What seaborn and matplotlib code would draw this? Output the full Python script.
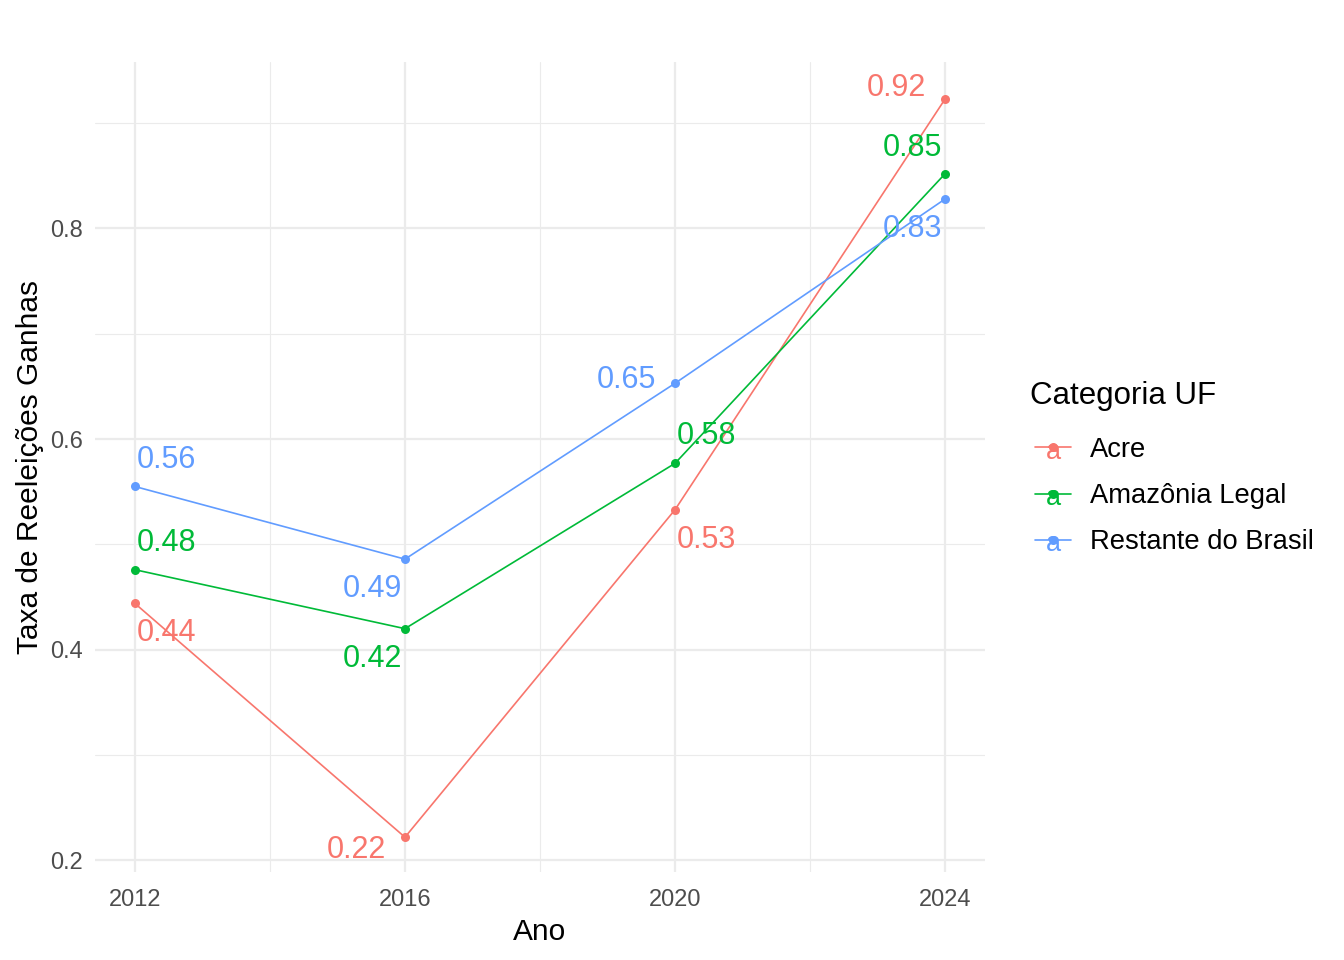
import pandas as pd
import matplotlib.pyplot as plt
import seaborn as sns
from matplotlib.lines import Line2D
from matplotlib.legend_handler import HandlerBase
from matplotlib.text import Text

anos = [2012, 2016, 2020, 2024]
categorias = ['Acre', 'Amazônia Legal', 'Restante do Brasil']
acre = [0.444, 0.222, 0.533, 0.923]
amazonia = [0.476, 0.420, 0.577, 0.852]
restante = [0.555, 0.486, 0.653, 0.828]
rotulos = {
    'Acre': ['0.44', '0.22', '0.53', '0.92'],
    'Amazônia Legal': ['0.48', '0.42', '0.58', '0.85'],
    'Restante do Brasil': ['0.56', '0.49', '0.65', '0.83'],
}

df = pd.DataFrame({
    'Ano': anos * 3,
    'Taxa': acre + amazonia + restante,
    'Categoria': [c for c in categorias for _ in anos],
})

cores = {'Acre': '#F8766D', 'Amazônia Legal': '#00BA38', 'Restante do Brasil': '#619CFF'}

# label placement (pixel offsets, alignment) per point
pos = {
    'Acre': [(2, -30, 'left'), (-19, -13, 'right'), (2, -30, 'left'), (-19, 11, 'right')],
    'Amazônia Legal': [(2, 27, 'left'), (-3, -30, 'right'), (2, 27, 'left'), (-3, 26, 'right')],
    'Restante do Brasil': [(2, 26, 'left'), (-3, -30, 'right'), (-19, 3, 'right'), (-3, -30, 'right')],
}

sns.set_theme(style='whitegrid')
plt.rcParams['font.family'] = ['Liberation Sans', 'DejaVu Sans']

fig = plt.figure(figsize=(13.44, 9.6), dpi=100)
ax = fig.add_axes([0.0707, 0.0917, 0.6622, 0.8437])

sns.lineplot(data=df, x='Ano', y='Taxa', hue='Categoria', palette=cores,
             marker='o', markersize=6.5, markeredgewidth=0, linewidth=1.2,
             legend=False, ax=ax)

for cat in categorias:
    vals = df[df['Categoria'] == cat]['Taxa'].tolist()
    for i, (a, v) in enumerate(zip(anos, vals)):
        dx, dy, ha = pos[cat][i]
        ax.annotate(rotulos[cat][i], (a, v), xytext=(dx * 0.72, dy * 0.72),
                    textcoords='offset points', ha=ha, va='center',
                    fontsize=22, color=cores[cat])

ax.set_xlim(2011.41, 2024.59)
ax.set_ylim(0.189, 0.958)
ax.set_xticks(anos)
ax.set_yticks([0.2, 0.4, 0.6, 0.8])
ax.set_yticklabels(['0.2', '0.4', '0.6', '0.8'])
ax.set_xticks([2014, 2018, 2022], minor=True)
ax.set_yticks([0.3, 0.5, 0.7, 0.9], minor=True)
ax.grid(which='major', color='#EBEBEB', linewidth=1.6)
ax.grid(which='minor', color='#EBEBEB', linewidth=0.8)
ax.set_facecolor('white')
for s in ax.spines.values():
    s.set_visible(False)
ax.tick_params(axis='both', which='both', length=0, labelsize=17, labelcolor='#4D4D4D')
ax.tick_params(axis='x', pad=12.5)
ax.tick_params(axis='y', pad=9)
ax.set_xlabel('Ano', fontsize=21.5, color='black', labelpad=5)
ax.set_ylabel('Taxa de Reeleições Ganhas', fontsize=21.5, color='black', labelpad=4)


class KeyHandler(HandlerBase):
    def create_artists(self, legend, orig, xdescent, ydescent, width, height, fontsize, trans):
        c = orig.get_color()
        y = height / 2 - ydescent
        x0 = 4 - xdescent
        ln = Line2D([x0, x0 + width], [y, y], color=c, linewidth=1.2, transform=trans)
        mk = Line2D([x0 + width / 2], [y], marker='o', markersize=6.5,
                    markeredgewidth=0, color=c, linestyle='none', transform=trans)
        tx = Text(x0 + width / 2, y - 3, 'a', color=c, fontsize=19.5, ha='center',
                  va='center', transform=trans)
        return [ln, mk, tx]


handles = [Line2D([], [], color=cores[c]) for c in categorias]
leg = fig.legend(handles, categorias, handler_map={Line2D: KeyHandler()},
                 loc='upper left', bbox_to_anchor=(0.758, 0.615), frameon=False,
                 title='Categoria UF', fontsize=19.7, title_fontsize=22.5,
                 alignment='left', handlelength=1.3, handletextpad=0.9,
                 labelspacing=0.74, borderaxespad=0)
leg._legend_box.sep = 19
leg.get_title().set_color('black')
for t in leg.get_texts():
    t.set_color('black')

fig.savefig('out.png', dpi=100, facecolor='white')
